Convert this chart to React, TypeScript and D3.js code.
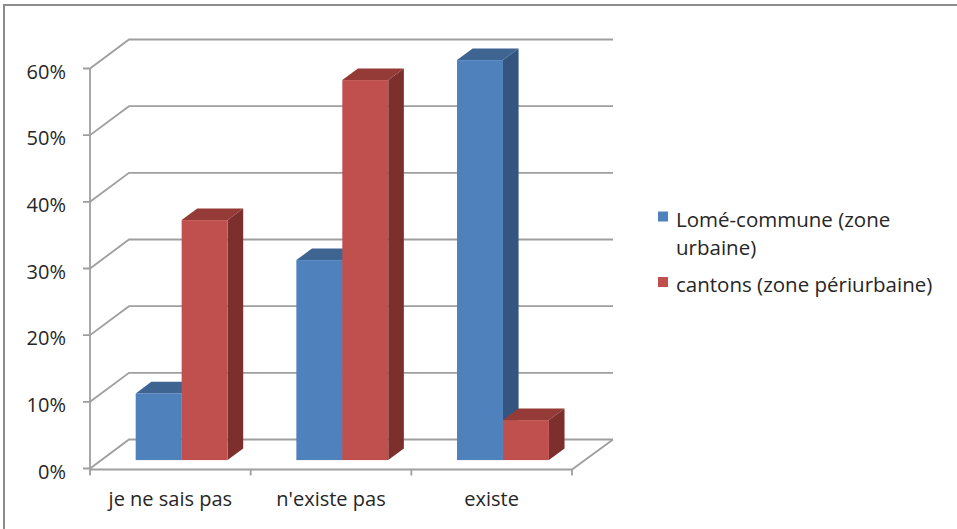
import React from "react";
import * as d3 from "d3";

const categories = ["je ne sais pas", "n'existe pas", "existe"];
const seriesNames = ["Lomé-commune (zone urbaine)", "cantons (zone périurbaine)"];
const lomeValues = [0.10, 0.30, 0.60];
const cantonsValues = [0.36, 0.57, 0.06];
const yTicks = [0, 0.1, 0.2, 0.3, 0.4, 0.5, 0.6];

const W = 957;
const H = 529;
const FONT = "'Open Sans', Lato, sans-serif";

const palettes = [
  { front: "#4F81BD", top: "#3E6592", side: "#33557F" },
  { front: "#C0504D", top: "#943A37", side: "#7D2F2D" },
];

export default function App() {
  const y = d3.scaleLinear().domain([0, 0.6]).range([468.5, 68.5]);
  const x = d3.scaleBand<string>().domain(categories).range([90, 572]).padding(0);
  const DX = 39; // floor depth offsets
  const DY = -29;
  const depthFront = 0.29;
  const depthSize = 0.4;
  const groupFrac = 0.572;
  const sub = d3
    .scaleBand<number>()
    .domain([0, 1])
    .range([0, x.bandwidth() * groupFrac]);

  const series = [lomeValues, cantonsValues];
  const gridColor = "#9f9f9f";

  const ox = depthFront * DX;
  const oy = depthFront * DY;
  const bdx = depthSize * DX;
  const bdy = depthSize * DY;

  const bars: React.ReactNode[] = [];
  categories.forEach((c, ci) => {
    const center = (x(c) ?? 0) + x.bandwidth() / 2;
    const g0 = center - (x.bandwidth() * groupFrac) / 2 + ox;
    series.forEach((vals, si) => {
      const x0 = g0 + (sub(si) ?? 0);
      const x1 = x0 + sub.bandwidth();
      const yb = y(0) + oy;
      const yt = y(vals[ci]) + oy;
      const p = palettes[si];
      const pts = (a: number[][]) => a.map((q) => q.join(",")).join(" ");
      bars.push(
        <g key={`${ci}-${si}`}>
          <polygon
            points={pts([
              [x1, yt],
              [x1 + bdx, yt + bdy],
              [x1 + bdx, yb + bdy],
              [x1, yb],
            ])}
            fill={p.side}
          />
          <polygon
            points={pts([
              [x0, yt],
              [x1, yt],
              [x1 + bdx, yt + bdy],
              [x0 + bdx, yt + bdy],
            ])}
            fill={p.top}
          />
          <rect x={x0} y={yt} width={x1 - x0} height={yb - yt} fill={p.front} />
        </g>
      );
    });
  });

  const x0 = 90;
  const xEnd = 572;
  const xBackEnd = 613;

  return (
    <svg
      width={W}
      height={H}
      style={{ position: "absolute", left: 0, top: 0, background: "#fff" }}
    >
      {/* frame */}
      <rect x={4} y={5} width={W + 10} height={H + 10} fill="none" stroke="#8c8c8c" strokeWidth={2} />

      {/* gridlines with side wall diagonals */}
      {yTicks.map((t) => {
        const yy = y(t);
        return (
          <g key={t}>
            <polyline
              points={`${x0 - 7},${yy} ${x0},${yy} ${x0 + DX},${yy + DY} ${xBackEnd},${yy + DY}`}
              fill="none"
              stroke={gridColor}
              strokeWidth={1.8}
            />
            <text
              x={66}
              y={yy + 10}
              textAnchor="end"
              fontFamily={FONT}
              fontSize={20}
              fill="#262626"
            >
              {`${Math.round(t * 100)}%`}
            </text>
          </g>
        );
      })}

      {/* vertical axis */}
      <line x1={x0} y1={y(0.6)} x2={x0} y2={y(0) + 1} stroke={gridColor} strokeWidth={1.8} />

      {/* floor front edge and right edge */}
      <polyline
        points={`${x0},${y(0) + 1} ${xEnd},${y(0) + 1} ${xEnd + DX + 2},${y(0) + DY}`}
        fill="none"
        stroke={gridColor}
        strokeWidth={1.8}
      />
      {[...categories.map((c) => x(c) ?? 0), xEnd].map((tx, i) => (
        <line key={i} x1={tx} y1={y(0) + 1} x2={tx} y2={y(0) + 7} stroke={gridColor} strokeWidth={1.8} />
      ))}

      {bars}

      {/* category labels */}
      {categories.map((c) => (
        <text
          key={c}
          x={(x(c) ?? 0) + x.bandwidth() / 2}
          y={506}
          textAnchor="middle"
          fontFamily={FONT}
          fontSize={20}
          fill="#262626"
        >
          {c}
        </text>
      ))}

      {/* legend */}
      <rect x={658} y={211.5} width={10} height={10} fill={palettes[0].front} />
      <text x={676} y={227} fontFamily={FONT} fontSize={20.5} fill="#262626">
        Lomé-commune (zone
      </text>
      <text x={676} y={255} fontFamily={FONT} fontSize={20.5} fill="#262626">
        urbaine)
      </text>
      <rect x={658} y={277} width={10} height={10} fill={palettes[1].front} />
      <text x={676} y={292} fontFamily={FONT} fontSize={20.5} fill="#262626">
        {seriesNames[1]}
      </text>
    </svg>
  );
}
